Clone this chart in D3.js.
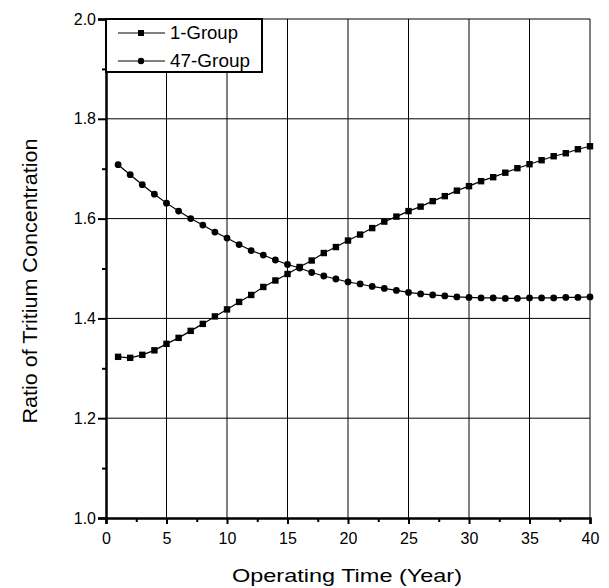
<!DOCTYPE html>
<html>
<head>
<meta charset="utf-8">
<script src="https://cdn.jsdelivr.net/npm/d3@7"></script>
<style>
  body { margin: 0; background: #fff; }
  text { font-family: "Liberation Sans", Arial, sans-serif; fill: #000; }
</style>
</head>
<body>
<div id="chart"></div>
<script>
// operating time in years
var years = d3.range(1, 41);

// 1-Group (squares), rising
var group1 = [1.323, 1.321, 1.327, 1.336, 1.349, 1.361, 1.375, 1.389, 1.404, 1.418,
              1.433, 1.447, 1.463, 1.476, 1.489, 1.503, 1.516, 1.531, 1.543, 1.556,
              1.568, 1.581, 1.594, 1.604, 1.615, 1.624, 1.635, 1.645, 1.656, 1.665,
              1.675, 1.683, 1.692, 1.701, 1.709, 1.717, 1.725, 1.731, 1.739, 1.745];

// 47-Group (circles), falling
var group47 = [1.708, 1.688, 1.668, 1.649, 1.631, 1.615, 1.600, 1.587, 1.573, 1.561,
               1.548, 1.536, 1.527, 1.517, 1.508, 1.501, 1.492, 1.485, 1.479, 1.473,
               1.469, 1.464, 1.460, 1.456, 1.452, 1.449, 1.447, 1.445, 1.443, 1.442,
               1.441, 1.441, 1.440, 1.440, 1.441, 1.441, 1.441, 1.442, 1.442, 1.443];

var xTicks = [0, 5, 10, 15, 20, 25, 30, 35, 40];
var yTicks = [1.0, 1.2, 1.4, 1.6, 1.8, 2.0];
var seriesNames = ["1-Group", "47-Group"];

const margin = {top: 19, right: 19, bottom: 70, left: 106};
const width = 609 - margin.left - margin.right;
const height = 588 - margin.top - margin.bottom;

var svg = d3.select("#chart")
    .append("svg")
        .attr("width", 609)
        .attr("height", 588)
    .append("g")
        .attr("transform", `translate(${margin.left}, ${margin.top})`);

var xScale = d3.scaleLinear().domain([0, 40]).range([0, width]);
var yScale = d3.scaleLinear().domain([1.0, 2.0]).range([height, 0]);

// grid lines
svg.append("g")
    .selectAll("line")
    .data(xTicks.slice(1))
    .join("line")
    .attr("x1", d => xScale(d)).attr("x2", d => xScale(d))
    .attr("y1", 0).attr("y2", height)
    .attr("stroke", "#000").attr("stroke-width", 1);

svg.append("g")
    .selectAll("line")
    .data(yTicks.slice(1))
    .join("line")
    .attr("x1", 0).attr("x2", width)
    .attr("y1", d => yScale(d)).attr("y2", d => yScale(d))
    .attr("stroke", "#000").attr("stroke-width", 1);

// x axis
svg.append("g")
    .attr("transform", "translate(0," + height + ")")
    .call(d3.axisBottom(xScale).tickValues(xTicks).tickSize(6).tickPadding(9).tickFormat(d3.format("d")));
svg.append("g")
    .attr("transform", "translate(0," + height + ")")
    .call(d3.axisBottom(xScale).tickValues(d3.range(2.5, 40, 5)).tickSize(4).tickFormat(""))
    .call(g => g.select(".domain").remove());

// y axis
svg.append("g")
    .call(d3.axisLeft(yScale).tickValues(yTicks).tickSize(8).tickPadding(2).tickFormat(d3.format(".1f")));
svg.append("g")
    .call(d3.axisLeft(yScale).tickValues([1.1, 1.3, 1.5, 1.7, 1.9]).tickSize(4).tickFormat(""))
    .call(g => g.select(".domain").remove());

svg.selectAll(".domain").attr("stroke-width", 2.5);
svg.selectAll(".tick line").attr("stroke-width", 2);
svg.selectAll(".tick text")
    .style("font-size", "16px")
    .style("font-family", "Liberation Sans, Arial, sans-serif");

// lines
var line = d3.line()
    .x((d, i) => xScale(years[i]))
    .y(d => yScale(d));

svg.append("path")
    .datum(group1)
    .attr("fill", "none")
    .attr("stroke", "#000")
    .attr("stroke-width", 1.2)
    .attr("d", line);

svg.append("path")
    .datum(group47)
    .attr("fill", "none")
    .attr("stroke", "#000")
    .attr("stroke-width", 1.2)
    .attr("d", line);

// markers
svg.selectAll(".sq")
    .data(group1)
    .join("rect")
    .attr("class", "sq")
    .attr("x", (d, i) => xScale(years[i]) - 3.2)
    .attr("y", d => yScale(d) - 3.2)
    .attr("width", 6.4)
    .attr("height", 6.4)
    .attr("fill", "#000");

svg.selectAll(".dot")
    .data(group47)
    .join("circle")
    .attr("class", "dot")
    .attr("cx", (d, i) => xScale(years[i]))
    .attr("cy", d => yScale(d))
    .attr("r", 3.4)
    .attr("fill", "#000");

// legend
var legend = svg.append("g");
legend.append("rect")
    .attr("x", 0).attr("y", 0)
    .attr("width", 156).attr("height", 53)
    .attr("fill", "#fff").attr("stroke", "#000").attr("stroke-width", 2);

seriesNames.forEach(function (name, i) {
    var ly = 14 + i * 28;
    legend.append("line")
        .attr("x1", 12).attr("x2", 59)
        .attr("y1", ly).attr("y2", ly)
        .attr("stroke", "#000").attr("stroke-width", 1.2);
    if (i === 0) {
        legend.append("rect").attr("x", 35 - 3).attr("y", ly - 3).attr("width", 6).attr("height", 6).attr("fill", "#000");
    } else {
        legend.append("circle").attr("cx", 35).attr("cy", ly).attr("r", 3.2).attr("fill", "#000");
    }
    legend.append("text")
        .attr("x", 64).attr("y", ly + 6)
        .style("font-size", "18px")
        .attr("textLength", i === 0 ? 68 : 80)
        .attr("lengthAdjust", "spacingAndGlyphs")
        .text(name);
});

// axis titles
svg.append("text")
    .attr("x", width / 2 - 1)
    .attr("y", height + 64)
    .attr("text-anchor", "middle")
    .style("font-size", "19px")
    .attr("textLength", 230)
    .attr("lengthAdjust", "spacingAndGlyphs")
    .text("Operating Time (Year)");

svg.append("text")
    .attr("x", -262)
    .attr("y", -69)
    .attr("transform", "rotate(-90)")
    .attr("text-anchor", "middle")
    .style("font-size", "20px")
    .attr("textLength", 285)
    .attr("lengthAdjust", "spacingAndGlyphs")
    .text("Ratio of Tritium Concentration");
</script>
</body>
</html>
